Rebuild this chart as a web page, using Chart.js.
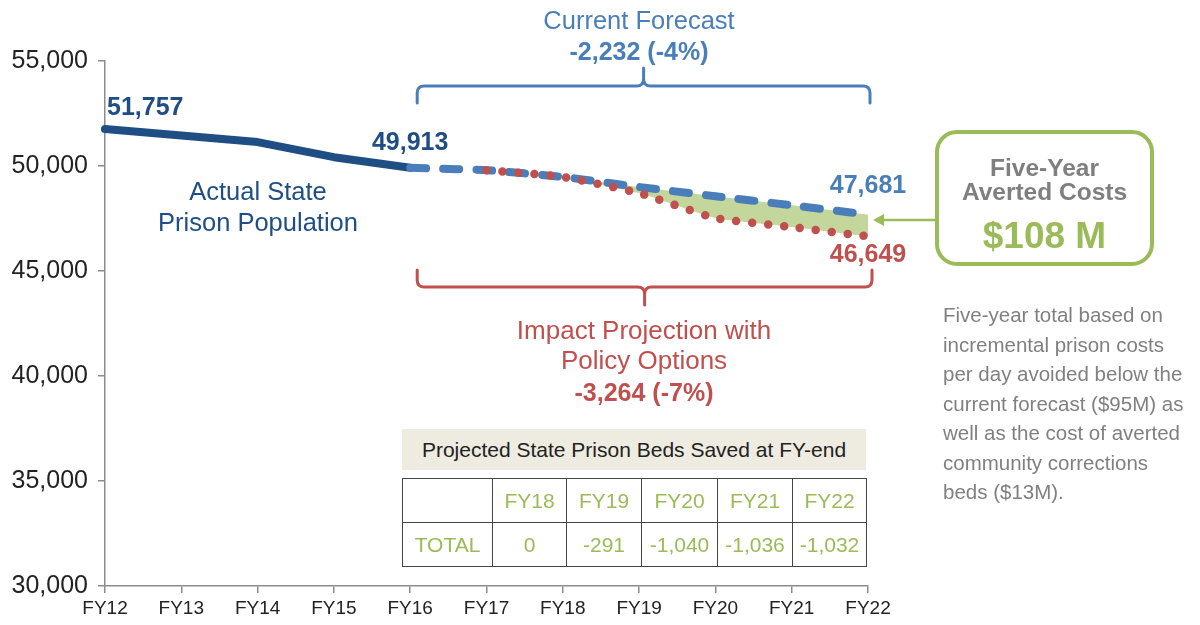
<!DOCTYPE html>
<html>
<head>
<meta charset="utf-8">
<script src="https://cdn.jsdelivr.net/npm/chart.js@4"></script>
<style>
  body { margin: 0; background: #fff; font-family: "Liberation Sans", Arial, sans-serif; }
  #wrap { position: relative; width: 1200px; height: 625px; overflow: hidden; }
  canvas { position: absolute; left: 0; top: 0; }
  .txt { position: absolute; width: 400px; text-align: center; white-space: nowrap; line-height: 30px; }
  .navy { color: #1f4e85; }
  .blue { color: #4a7ebb; }
  .red { color: #c0504d; }
  #tblTitle { position: absolute; left: 402px; top: 429px; width: 464px; height: 41px; background: #eeebe0;
    font-size: 21px; color: #222; text-align: center; line-height: 42px; }
  #beds { position: absolute; left: 402px; top: 478px; width: 464px; height: 87px; border-collapse: collapse; table-layout: fixed; }
  #beds td { border: 1.5px solid #444; color: #9bbb59; font-size: 21px; text-align: center; height: 43px; padding: 0; white-space: nowrap; }
  #costBox { position: absolute; left: 935px; top: 130px; width: 211px; height: 128px; border: 4px solid #9bbb59;
    border-radius: 22px; text-align: center; }
  #costBox .hd { color: #7f7f7f; font-weight: bold; font-size: 24.5px; line-height: 24px; margin-top: 22px; }
  #costBox .amt { color: #9bbb59; font-weight: bold; font-size: 37px; line-height: 40px; margin-top: 12px; }
  #note { position: absolute; left: 943px; top: 300px; width: 260px; color: #808080; font-size: 20.5px; line-height: 29.5px; white-space: nowrap; }
</style>
</head>
<body>
<div id="wrap">
  <canvas id="chart" width="1200" height="625"></canvas>

  <div class="txt blue" style="left:439px; top:5px; font-size:25.5px;">Current Forecast</div>
  <div class="txt blue" style="left:439px; top:36px; font-size:25px; font-weight:bold;">-2,232 (-4%)</div>

  <div class="txt navy" style="left:58px; top:176px; font-size:25.5px;">Actual State</div>
  <div class="txt navy" style="left:58px; top:207px; font-size:25.5px;">Prison Population</div>

  <div class="txt red" style="left:444px; top:315px; font-size:26px;">Impact Projection with</div>
  <div class="txt red" style="left:444px; top:345px; font-size:26px;">Policy Options</div>
  <div class="txt red" style="left:444px; top:377px; font-size:25px; font-weight:bold;">-3,264 (-7%)</div>

  <div id="tblTitle">Projected State Prison Beds Saved at FY-end</div>
  <table id="beds"><tbody id="bedsBody"></tbody></table>

  <div id="costBox">
    <div class="hd">Five-Year<br>Averted Costs</div>
    <div class="amt">$108 M</div>
  </div>

  <div id="note">Five-year total based on<br>incremental prison costs<br>per day avoided below the<br>current forecast ($95M) as<br>well as the cost of averted<br>community corrections<br>beds ($13M).</div>
</div>

<script>
  // chart data
  const years = ["FY12", "FY13", "FY14", "FY15", "FY16", "FY17", "FY18", "FY19", "FY20", "FY21", "FY22"];
  const actual = [51757, 51450, 51140, 50420, 49913, null, null, null, null, null, null];
  const forecast = [null, null, null, null, 49913, 49800, 49480, 49000, 48560, 48130, 47681];
  const impact = [null, null, null, null, null, 49800, 49480, 48710, 47520, 47095, 46649];
  const yTicks = [30000, 35000, 40000, 45000, 50000, 55000];

  // table under the chart
  const tableYears = ["FY18", "FY19", "FY20", "FY21", "FY22"];
  const bedsSaved = ["0", "-291", "-1,040", "-1,036", "-1,032"];
  const colWidths = [89, 73, 74, 75, 74, 73];

  const NAVY = "#1f4e85";
  const BLUE = "#4a7ebb";
  const RED = "#c0504d";
  const GREEN = "#9bbb59";

  // fill the table
  const tbody = document.getElementById("bedsBody");
  let row1 = "<tr><td style='width:" + colWidths[0] + "px'></td>";
  tableYears.forEach((y, i) => { row1 += "<td style='width:" + colWidths[i + 1] + "px'>" + y + "</td>"; });
  row1 += "</tr>";
  let row2 = "<tr><td>TOTAL</td>";
  bedsSaved.forEach(v => { row2 += "<td>" + v + "</td>"; });
  row2 += "</tr>";
  tbody.innerHTML = row1 + row2;

  function fmt(v) {
    return v.toLocaleString("en-US");
  }

  function drawBrace(ctx, x1, x2, yEnd, yMid, yCusp, color) {
    const dir = yEnd > yMid ? 1 : -1;
    const r = 7;
    const xc = (x1 + x2) / 2;
    ctx.save();
    ctx.strokeStyle = color;
    ctx.lineWidth = 3;
    ctx.lineCap = "round";
    ctx.beginPath();
    ctx.moveTo(x1, yEnd);
    ctx.lineTo(x1, yMid + dir * r);
    ctx.quadraticCurveTo(x1, yMid, x1 + r, yMid);
    ctx.lineTo(xc - r, yMid);
    ctx.quadraticCurveTo(xc, yMid, xc, yMid - dir * r);
    ctx.lineTo(xc, yCusp);
    ctx.moveTo(xc, yMid - dir * r);
    ctx.quadraticCurveTo(xc, yMid, xc + r, yMid);
    ctx.lineTo(x2 - r, yMid);
    ctx.quadraticCurveTo(x2, yMid, x2, yMid + dir * r);
    ctx.lineTo(x2, yEnd);
    ctx.stroke();
    ctx.restore();
  }

  const annotations = {
    id: "annotations",
    afterDatasetsDraw(chart) {
      const ctx = chart.ctx;
      const x = chart.scales.x;
      const y = chart.scales.y;
      const last = years.length - 1;

      ctx.save();
      ctx.font = "bold 25px 'Liberation Sans', Arial, sans-serif";
      ctx.textBaseline = "middle";

      ctx.fillStyle = NAVY;
      ctx.textAlign = "left";
      ctx.fillText(fmt(actual[0]), x.getPixelForValue(0) + 2, y.getPixelForValue(actual[0]) - 21);
      ctx.textAlign = "center";
      ctx.fillText(fmt(actual[4]), x.getPixelForValue(4), y.getPixelForValue(actual[4]) - 25);

      ctx.fillStyle = BLUE;
      ctx.fillText(fmt(forecast[last]), x.getPixelForValue(last), y.getPixelForValue(forecast[last]) - 29);
      ctx.fillStyle = RED;
      ctx.fillText(fmt(impact[last]), x.getPixelForValue(last), y.getPixelForValue(impact[last]) + 19);
      ctx.restore();

      // braces
      const bx1 = x.getPixelForValue(4) + 7;
      drawBrace(ctx, bx1, x.getPixelForValue(last) + 2, 103, 86, 68, BLUE);
      drawBrace(ctx, bx1, x.getPixelForValue(last) + 4, 270, 287, 305, RED);

      // arrow from the cost box to the gap
      const ax = x.getPixelForValue(last) + 5;
      ctx.save();
      ctx.strokeStyle = GREEN;
      ctx.fillStyle = GREEN;
      ctx.lineWidth = 2.5;
      ctx.beginPath();
      ctx.moveTo(936, 220);
      ctx.lineTo(ax + 8, 220);
      ctx.stroke();
      ctx.beginPath();
      ctx.moveTo(ax, 220);
      ctx.lineTo(ax + 11, 214);
      ctx.lineTo(ax + 11, 226);
      ctx.closePath();
      ctx.fill();
      ctx.restore();
    }
  };

  new Chart(document.getElementById("chart"), {
    type: "line",
    data: {
      labels: years,
      datasets: [
        {
          label: "Impact Projection",
          data: impact,
          borderColor: RED,
          borderWidth: 8.5,
          borderDash: [0, 16],
          borderCapStyle: "round",
          backgroundColor: "#c3d69b",
          fill: "+1",
          pointRadius: 0,
          tension: 0.15,
          spanGaps: false
        },
        {
          label: "Current Forecast",
          data: forecast,
          borderColor: BLUE,
          borderWidth: 8,
          borderDash: [16, 17],
          borderCapStyle: "round",
          fill: false,
          pointRadius: 0,
          tension: 0.15
        },
        {
          label: "Actual",
          data: actual,
          borderColor: NAVY,
          borderWidth: 8,
          borderCapStyle: "round",
          borderJoinStyle: "round",
          fill: false,
          pointRadius: 0,
          tension: 0
        }
      ]
    },
    options: {
      responsive: false,
      animation: false,
      layout: { padding: { left: 0, right: 332, top: 61, bottom: 0 } },
      plugins: {
        legend: { display: false },
        tooltip: { enabled: false },
        filler: { drawTime: "beforeDatasetsDraw" }
      },
      scales: {
        x: {
          offset: false,
          grid: { drawOnChartArea: false, color: "#8c8c8c", tickLength: 7, lineWidth: 1.5 },
          border: { color: "#8c8c8c", width: 1.5 },
          ticks: { color: "#222", font: { size: 19, family: "'Liberation Sans', Arial, sans-serif" }, padding: 4, maxRotation: 0 },
          afterFit(s) { s.height = 39; }
        },
        y: {
          min: 30000,
          max: 55000,
          afterBuildTicks(s) { s.ticks = yTicks.map(v => ({ value: v })); },
          grid: { drawOnChartArea: false, color: "#8c8c8c", tickLength: 7, lineWidth: 1.5 },
          border: { color: "#8c8c8c", width: 1.5 },
          ticks: { color: "#222", font: { size: 25, family: "'Liberation Sans', Arial, sans-serif" }, padding: 10,
            callback: v => fmt(v) },
          afterFit(s) { s.width = 105; }
        }
      }
    },
    plugins: [annotations]
  });
</script>
</body>
</html>
